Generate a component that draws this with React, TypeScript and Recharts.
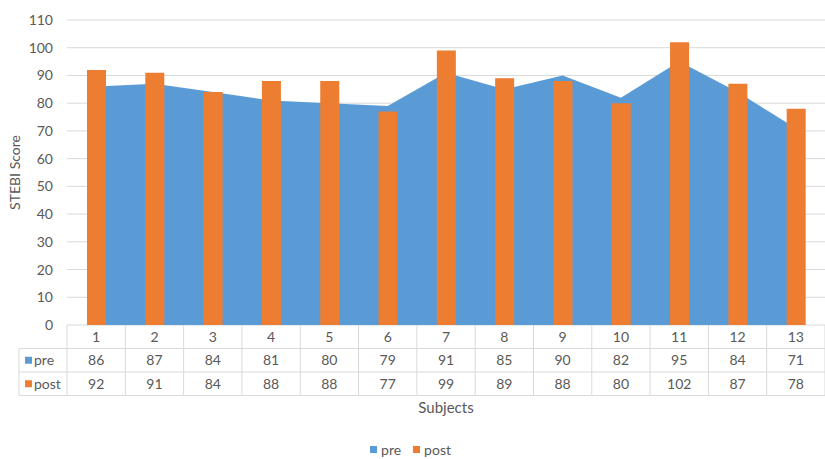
import React from "react";
import {
  ComposedChart,
  Area,
  Bar,
  XAxis,
  YAxis,
  CartesianGrid,
  Legend,
} from "recharts";

const subjects = ["1", "2", "3", "4", "5", "6", "7", "8", "9", "10", "11", "12", "13"];
const preScores = [86, 87, 84, 81, 80, 79, 91, 85, 90, 82, 95, 84, 71];
const postScores = [92, 91, 84, 88, 88, 77, 99, 89, 88, 80, 102, 87, 78];
const yTicks = [0, 10, 20, 30, 40, 50, 60, 70, 80, 90, 100, 110];

const PRE = "#5B9BD5";
const POST = "#ED7D31";
const GRID = "#D9D9D9";
const TEXT = "#595959";
const FONT = "Lato, 'Open Sans', sans-serif";

const WIDTH = 825;
const HEIGHT = 459;
const Y_AXIS_W = 67;
const BAND = (WIDTH - Y_AXIS_W) / subjects.length;
const ROW_H = 23.5;
const LABEL_COL = 48;

const data = subjects.map((s, i) => ({
  subject: s,
  pre: preScores[i],
  post: postScores[i],
}));

// data table under the plot, drawn one column per x tick
function TableTick(props: any) {
  const { x, y, payload, index } = props;
  const left = x - BAND / 2;
  const i = payload.index ?? index;
  const rows = [payload.value, String(preScores[i]), String(postScores[i])];
  return (
    <g>
      {index === 0 && (
        <g>
          <line x1={left - LABEL_COL} x2={left} y1={y + ROW_H} y2={y + ROW_H} stroke={GRID} />
          <line x1={left - LABEL_COL} x2={left} y1={y + ROW_H * 2} y2={y + ROW_H * 2} stroke={GRID} />
          <line x1={left - LABEL_COL} x2={left} y1={y + ROW_H * 3} y2={y + ROW_H * 3} stroke={GRID} />
          <line x1={left - LABEL_COL} x2={left - LABEL_COL} y1={y + ROW_H} y2={y + ROW_H * 3} stroke={GRID} />
          <line x1={left} x2={left} y1={y} y2={y + ROW_H * 3} stroke={GRID} />
          <rect x={left - LABEL_COL + 6} y={y + ROW_H * 1.5 - 3.5} width={7} height={7} fill={PRE} />
          <text x={left - LABEL_COL + 15} y={y + ROW_H * 1.5} dy="0.35em" fill={TEXT} fontSize={14} fontFamily={FONT}>
            pre
          </text>
          <rect x={left - LABEL_COL + 6} y={y + ROW_H * 2.5 - 3.5} width={7} height={7} fill={POST} />
          <text x={left - LABEL_COL + 15} y={y + ROW_H * 2.5} dy="0.35em" fill={TEXT} fontSize={14} fontFamily={FONT}>
            post
          </text>
        </g>
      )}
      <line x1={left + BAND} x2={left + BAND} y1={y} y2={y + ROW_H * 3} stroke={GRID} />
      <line x1={left} x2={left + BAND} y1={y + ROW_H} y2={y + ROW_H} stroke={GRID} />
      <line x1={left} x2={left + BAND} y1={y + ROW_H * 2} y2={y + ROW_H * 2} stroke={GRID} />
      <line x1={left} x2={left + BAND} y1={y + ROW_H * 3} y2={y + ROW_H * 3} stroke={GRID} />
      {rows.map((r, k) => (
        <text
          key={k}
          x={x}
          y={y + ROW_H * (k + 0.5)}
          dy="0.35em"
          textAnchor="middle"
          fill={TEXT}
          fontSize={14}
          fontFamily={FONT}
        >
          {r}
        </text>
      ))}
    </g>
  );
}

function LegendContent() {
  const items = [
    { name: "pre", color: PRE },
    { name: "post", color: POST },
  ];
  return (
    <div
      style={{
        display: "flex",
        justifyContent: "center",
        alignItems: "flex-end",
        height: 33,
        fontFamily: FONT,
        fontSize: 14,
        color: TEXT,
        paddingLeft: 8,
      }}
    >
      {items.map((it) => (
        <div key={it.name} style={{ display: "flex", alignItems: "center", marginRight: 12 }}>
          <span style={{ display: "inline-block", width: 7, height: 7, background: it.color, marginRight: 4 }} />
          <span>{it.name}</span>
        </div>
      ))}
    </div>
  );
}

export default function App() {
  return (
    <div style={{ position: "absolute", left: 0, top: 0, background: "#fff" }}>
      <ComposedChart
        width={WIDTH}
        height={HEIGHT}
        data={data}
        margin={{ top: 20, right: 0, bottom: 0, left: 0 }}
      >
        <CartesianGrid vertical={false} stroke={GRID} />
        <XAxis
          dataKey="subject"
          height={100}
          axisLine={false}
          tickLine={false}
          tickSize={0}
          tickMargin={0}
          interval={0}
          tick={<TableTick />}
          label={{
            value: "Subjects",
            position: "insideTop",
            offset: 77,
            fill: TEXT,
            fontSize: 15,
            fontFamily: FONT,
          }}
        />
        <YAxis
          width={Y_AXIS_W}
          domain={[0, 110]}
          ticks={yTicks}
          interval={0}
          axisLine={false}
          tickLine={false}
          tickMargin={8}
          tick={{ fill: TEXT, fontSize: 14, fontFamily: FONT }}
          label={{
            value: "STEBI Score",
            angle: -90,
            position: "insideLeft",
            offset: 15,
            fill: TEXT,
            fontSize: 14,
            fontFamily: FONT,
            style: { textAnchor: "middle" },
          }}
        />
        <Legend verticalAlign="bottom" height={34} content={<LegendContent />} />
        <Area
          type="linear"
          dataKey="pre"
          name="pre"
          stroke="none"
          fill={PRE}
          fillOpacity={1}
          isAnimationActive={false}
        />
        <Bar dataKey="post" name="post" fill={POST} barSize={19} isAnimationActive={false} />
      </ComposedChart>
    </div>
  );
}
